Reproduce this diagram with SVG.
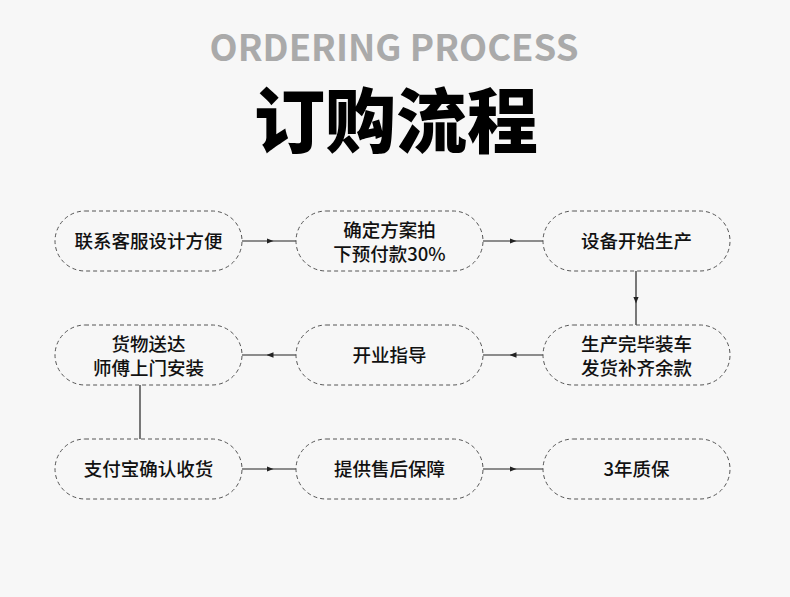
<svg xmlns="http://www.w3.org/2000/svg" width="790" height="597" viewBox="0 0 790 597">
<defs>
<style>
.node rect{fill:#f7f7f7;stroke:#555;stroke-width:1;stroke-dasharray:4 3}
.node text{font-family:"Noto Sans CJK SC","Noto Sans",sans-serif;font-size:18.5px;font-weight:500;fill:#111;text-anchor:middle}
.conn polyline,.conn line{fill:none;stroke:#222;stroke-width:1.2}
</style>
<marker id="ah" viewBox="0 0 10 10" refX="5" refY="5" markerWidth="7" markerHeight="7" orient="auto" markerUnits="userSpaceOnUse">
<path d="M0,1 L10,5 L0,9 Z" fill="#222"/>
</marker>
</defs>
<rect width="790" height="597" fill="#f7f7f7"/>
<text x="394" y="61" text-anchor="middle" font-family="'Noto Sans CJK SC','Noto Sans',sans-serif" font-weight="700" font-size="36.5" fill="#aaaaaa">ORDERING PROCESS</text>
<text x="396" y="147" text-anchor="middle" font-family="'Noto Sans CJK SC',sans-serif" font-weight="900" font-size="71" fill="#000">订购流程</text>
<g class="conn">
<polyline points="242,241 270,241 296,241" marker-mid="url(#ah)"/>
<polyline points="483,241 513,241 543,241" marker-mid="url(#ah)"/>
<polyline points="636,271 636,300 636,325" marker-mid="url(#ah)"/>
<polyline points="543,355 513,355 483,355" marker-mid="url(#ah)"/>
<polyline points="296,355 270,355 242,355" marker-mid="url(#ah)"/>
<line x1="140" y1="385" x2="140" y2="439"/>
<polyline points="242,469 270,469 296,469" marker-mid="url(#ah)"/>
<polyline points="483,469 513,469 543,469" marker-mid="url(#ah)"/>
</g>
<g id="n1" class="node"><rect x="55" y="211" width="187" height="60" rx="30"/><text x="148.5" y="248">联系客服设计方便</text></g>
<g id="n2" class="node"><rect x="296" y="211" width="187" height="60" rx="30"/><text x="389.5" y="237">确定方案拍</text><text x="389.5" y="261">下预付款30%</text></g>
<g id="n3" class="node"><rect x="543" y="211" width="187" height="60" rx="30"/><text x="636.5" y="248">设备开始生产</text></g>
<g id="n4" class="node"><rect x="543" y="325" width="187" height="60" rx="30"/><text x="636.5" y="351">生产完毕装车</text><text x="636.5" y="375">发货补齐余款</text></g>
<g id="n5" class="node"><rect x="296" y="325" width="187" height="60" rx="30"/><text x="389.5" y="362">开业指导</text></g>
<g id="n6" class="node"><rect x="55" y="325" width="187" height="60" rx="30"/><text x="148.5" y="351">货物送达</text><text x="148.5" y="375">师傅上门安装</text></g>
<g id="n7" class="node"><rect x="55" y="439" width="187" height="60" rx="30"/><text x="148.5" y="476">支付宝确认收货</text></g>
<g id="n8" class="node"><rect x="296" y="439" width="187" height="60" rx="30"/><text x="389.5" y="476">提供售后保障</text></g>
<g id="n9" class="node"><rect x="543" y="439" width="187" height="60" rx="30"/><text x="636.5" y="476">3年质保</text></g>
</svg>
